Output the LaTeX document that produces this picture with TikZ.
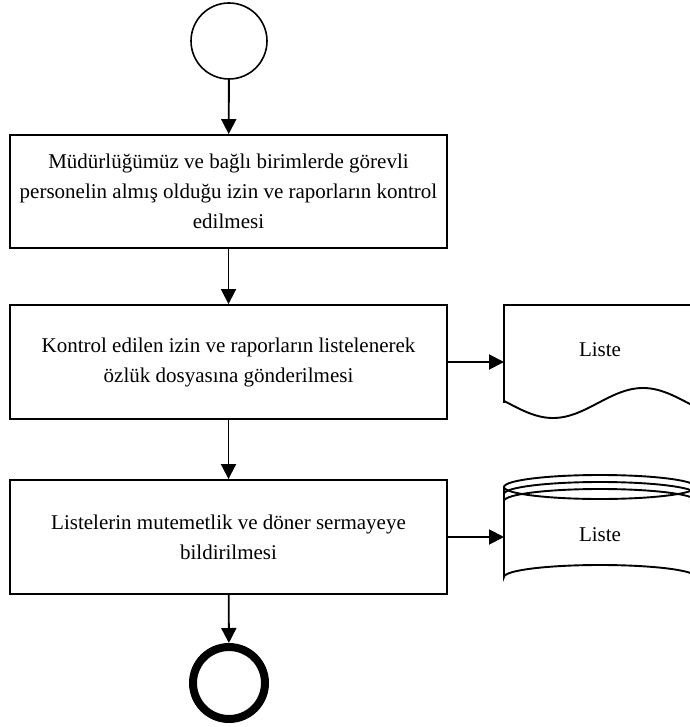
\documentclass[tikz,border=0pt]{standalone}
\usepackage{fontspec}
\setmainfont{Liberation Serif}
\usetikzlibrary{arrows.meta}
\begin{document}
\begin{tikzpicture}[x=1pt,y=-1pt,
  every node/.style={font=\fontsize{21}{30}\selectfont},
  procbox/.style={draw, line width=1.9pt, rectangle, minimum width=437pt,
    inner sep=0pt, align=center},
  outline/.style={line width=1.9pt},
  flow/.style={line width=1.9pt, -{Triangle[length=15pt,width=15pt]}},
  startnode/.style={draw, circle, line width=1.6pt, minimum size=76pt, inner sep=0pt},
  endnode/.style={draw, circle, line width=8pt, minimum size=72pt, inner sep=0pt}]
\useasboundingbox (0,0) rectangle (689,727);

% start and end events
\node[startnode] (start) at (229,41) {};
\node[endnode] (finish) at (229,683) {};

% process steps
\node[procbox, minimum height=113pt] (s1) at (228.5,191.5)
  {Müdürlüğümüz ve bağlı birimlerde görevli\\personelin almış olduğu izin ve raporların kontrol\\edilmesi};
\node[procbox, minimum height=114pt] (s2) at (228.5,362)
  {Kontrol edilen izin ve raporların listelenerek\\özlük dosyasına gönderilmesi};
\node[procbox, minimum height=114pt] (s3) at (228.5,537)
  {Listelerin mutemetlik ve döner sermayeye\\bildirilmesi};

% document shape
\draw[outline] (504,403) -- (504,305) -- (700,305) -- (700,403);
\draw[outline] plot[domain=504:700, samples=80, smooth] (\x,{403+15*sin(2*(\x-508))});
\coordinate (docin) at (504,362);
\node (doctext) at (600,350) {Liste};

% stored data shape
\draw[outline] (600,487) ellipse [x radius=96, y radius=12];
\draw[outline] (504,494) arc[start angle=180, end angle=360, x radius=96, y radius=12];
\draw[outline] (504,501) arc[start angle=180, end angle=360, x radius=96, y radius=12];
\draw[outline] (504,487) -- (504,577) arc[start angle=180, end angle=360, x radius=96, y radius=12] -- (696,487);
\coordinate (dbin) at (504,537);
\node (dbtext) at (600,535) {Liste};

% connectors
\draw[flow] (start) -- (s1);
\draw[flow] (s1) -- (s2);
\draw[flow] (s2) -- (s3);
\draw[flow] (s3) -- (finish);
\draw[flow] (s2.east) -- (docin);
\draw[flow] (s3.east) -- (dbin);
\end{tikzpicture}
\end{document}
